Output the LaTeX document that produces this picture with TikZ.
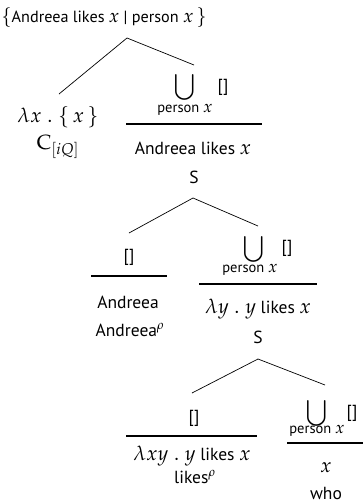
\documentclass[tikz,border=0pt]{standalone}
\usepackage{mathpazo}
\usepackage{fontspec}
\setmainfont{PT Sans}
\newcommand\mth[1]{{\fontsize{20.5}{22}\selectfont$#1$}}
\newcommand\tmth[1]{{\fontsize{19}{21}\selectfont$#1$}}
\newcommand\smth[1]{{\fontsize{17}{19}\selectfont$#1$}}
\begin{document}
\begin{tikzpicture}[x=1pt,y=-1pt,
  txt/.style={inner sep=0pt,anchor=base,font=\fontsize{17.5}{20}\selectfont},
  sym/.style={inner sep=0pt,font=\fontsize{17.5}{20}\selectfont},
  small/.style={inner sep=0pt,anchor=base,font=\fontsize{14.5}{16}\selectfont},
  branch/.style={line width=0.7pt},
  bar/.style={line width=1.1pt}]
\useasboundingbox (0,0) rectangle (363,504);
% top
\node[txt,font=\fontsize{16.2}{19}\selectfont] (top) at (104,22) {\tmth{\{}Andreea likes \tmth{x} | person \tmth{x}\,\tmth{\}}};
\coordinate (a1) at (127,38);
\coordinate (a1l) at (59,94);
\coordinate (a1r) at (194,65);
\draw[branch] (a1l) -- (a1) -- (a1r);
% level 1 left
\node[txt] (lam1) at (58,122) {\mth{\lambda x\;.\;\{\,x\,\}}};
\node[txt] (c1) at (58,149) {\mth{\mathrm{C}_{[iQ]}}};
% level 1 right
\node[sym] (u1) at (185,87) {\mth{\displaystyle\bigcup}};
\node[sym] (e1) at (223,87) {[]};
\node[small] (p1) at (185,112.5) {person \smth{x}};
\coordinate (b1l) at (126,124);
\coordinate (b1r) at (262,124);
\draw[bar] (b1l) -- (b1r);
\node[txt] (s1) at (193,154) {Andreea likes \mth{x}};
\node[txt] (S1) at (194,183) {S};
\coordinate (a2) at (193,198);
\coordinate (a2l) at (129,233);
\coordinate (a2r) at (258,226);
\draw[branch] (a2l) -- (a2) -- (a2r);
% level 2 left
\node[sym] (e2) at (129,257) {[]};
\coordinate (b2l) at (91,276);
\coordinate (b2r) at (167,276);
\draw[bar] (b2l) -- (b2r);
\node[txt] (an) at (128,308) {Andreea};
\node[txt] (anr) at (130,336) {Andreea\smth{^{\rho}}};
% level 2 right
\node[sym] (u2) at (254,249) {\mth{\displaystyle\bigcup}};
\node[sym] (e2r) at (287,248) {[]};
\node[small] (p2) at (250,272) {person \smth{x}};
\coordinate (b3l) at (199,284);
\coordinate (b3r) at (317,284);
\draw[bar] (b3l) -- (b3r);
\node[txt] (lam2) at (258,313) {\mth{\lambda y\;.\;y} likes \mth{x}};
\node[txt] (S2) at (258,343) {S};
\coordinate (a3) at (258,359);
\coordinate (a3l) at (192,393);
\coordinate (a3r) at (325,385);
\draw[branch] (a3l) -- (a3) -- (a3r);
% level 3 left
\node[sym] (e3) at (194,418) {[]};
\coordinate (b4l) at (126,436);
\coordinate (b4r) at (257,436);
\draw[bar] (b4l) -- (b4r);
\node[txt] (lam3) at (192,460) {\mth{\lambda xy\;.\;y} likes \mth{x}};
\node[txt] (lk) at (195,483) {likes\smth{^{\rho}}};
% level 3 right
\node[sym] (u3) at (317,413) {\mth{\displaystyle\bigcup}};
\node[sym] (e3r) at (352,413) {[]};
\node[small] (p3) at (317,433) {person \smth{x}};
\coordinate (b5l) at (287,443);
\coordinate (b5r) at (363,443);
\draw[bar] (b5l) -- (b5r);
\node[txt] (x3) at (326,472) {\mth{x}};
\node[txt] (who) at (326,499.5) {who};
\end{tikzpicture}
\end{document}
